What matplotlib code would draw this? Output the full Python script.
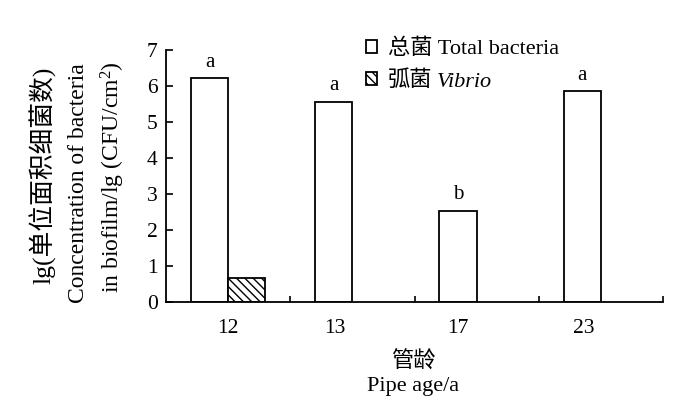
import matplotlib
matplotlib.use("Agg")
import matplotlib.pyplot as plt
import numpy as np

plt.rcParams['font.family'] = ['Liberation Serif', 'Noto Sans CJK SC']
plt.rcParams['mathtext.fontset'] = 'custom'
plt.rcParams['mathtext.rm'] = 'Liberation Serif'
plt.rcParams['mathtext.it'] = 'Liberation Serif:italic'
plt.rcParams['hatch.linewidth'] = 1.0

categories = ['12', '13', '17', '23']
total_bacteria = [6.22, 5.56, 2.53, 5.86]
vibrio = [0.67, None, None, None]
letters = ['a', 'a', 'b', 'a']

fig = plt.figure(figsize=(7, 4.05), dpi=100)
ax = fig.add_axes([166/700, 1-302/405, (663-166)/700, (302-50)/405])

x = np.arange(len(categories))
w = 0.3
ax.bar(x - w/2, total_bacteria, width=w, facecolor='white', edgecolor='black',
       linewidth=1.3, label='总菌 Total bacteria')
vx = [xi + w/2 for xi, v in zip(x, vibrio) if v is not None]
vv = [v for v in vibrio if v is not None]
ax.bar(vx, vv, width=w, facecolor='white', edgecolor='black', hatch='\\\\\\\\',
       linewidth=1.3, label='弧菌')

for xi, v, l in zip(x, total_bacteria, letters):
    ax.text(xi - w/2, v + 0.18, l, ha='center', va='bottom', fontsize=15)

ax.set_xlim(-0.5, 3.5)
ax.set_ylim(0, 7)
ax.set_yticks(range(0, 8))
ax.tick_params(axis='y', direction='in', length=5, width=1.2, labelsize=15.5, pad=6)
label_offsets = [0.0, -0.14, -0.15, -0.14]
ax.set_xticks([xi + o for xi, o in zip(x, label_offsets)])
ax.set_xticklabels(categories, fontsize=15.5)
ax.tick_params(axis='x', length=0, pad=12)
ax.set_xticks(np.arange(0.5, 4.0, 1.0), minor=True)
ax.tick_params(axis='x', which='minor', direction='in', length=4, width=1.2)
for s in ['top', 'right']:
    ax.spines[s].set_visible(False)
for s in ['left', 'bottom']:
    ax.spines[s].set_linewidth(1.3)

fig.text(43/700, 1-175/405, 'lg(单位面积细菌数)', rotation=90, ha='center', va='center', fontsize=18.5)
fig.text(78/700, 1-183/405, 'Concentration of bacteria', rotation=90, ha='center', va='center', fontsize=17)
fig.text(113/700, 1-177/405, 'in biofilm/lg (CFU/cm$^2$)', rotation=90, ha='center', va='center', fontsize=17)

fig.text(413/700, 1-362/405, '管龄', ha='center', va='center', fontsize=16)
fig.text(413/700, 1-386/405, 'Pipe age/a', ha='center', va='center', fontsize=16)

leg = ax.legend(loc='upper left', bbox_to_anchor=(366/700, 1-39/405), bbox_transform=fig.transFigure,
                frameon=False, fontsize=16, handlelength=0.5, handleheight=0.5,
                handletextpad=0.5, labelspacing=0.5, borderaxespad=0, borderpad=0)

fig.canvas.draw()
r = fig.canvas.get_renderer()
t2 = leg.get_texts()[1]
bb = t2.get_window_extent(r)
inv = fig.transFigure.inverted()
x1, y0 = inv.transform((bb.x1, bb.y0))
fig.text(x1 + 4/700, inv.transform((0, bb.y0 + bb.height * 0.22))[1], 'Vibrio',
         style='italic', ha='left', va='baseline', fontsize=16, family='Liberation Serif')

fig.savefig('out.png', dpi=100, facecolor='white')
